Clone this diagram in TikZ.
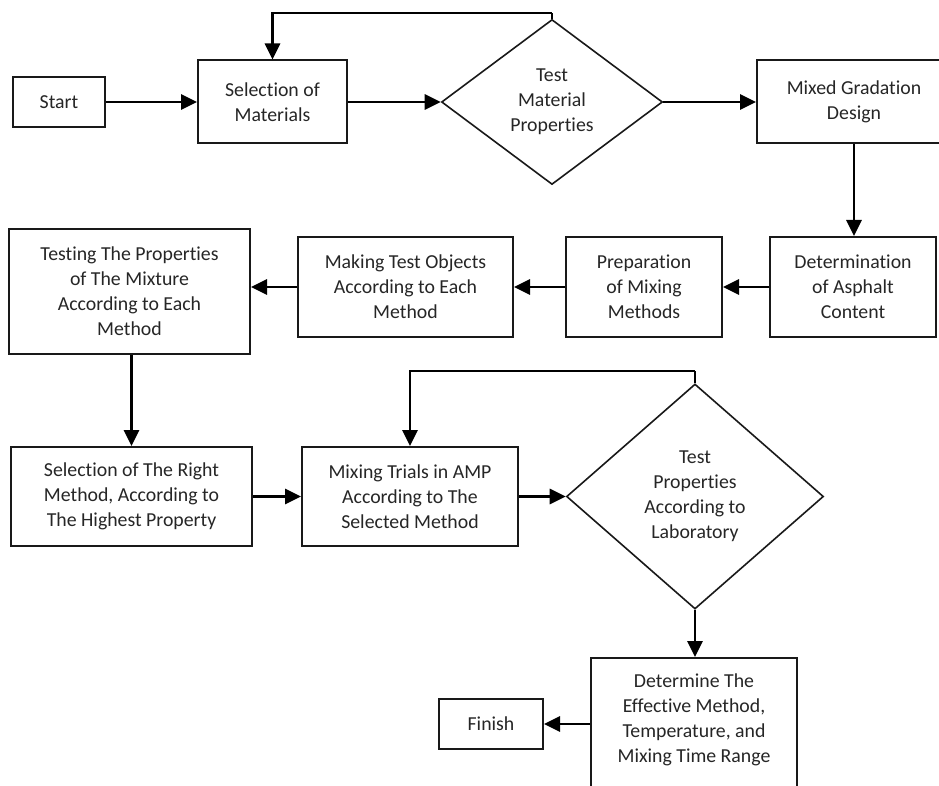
\documentclass[tikz,border=0pt]{standalone}
\usepackage{fontspec}
\setmainfont{Carlito}[Ligatures=NoCommon]
\usetikzlibrary{shapes.geometric,arrows.meta}
\tikzset{
  box/.style={draw=black!90, line width=2pt, fill=white, align=center, inner sep=0pt, text=black!85},
  dec/.style={draw=black!90, line width=1.6pt, diamond, align=center, inner sep=0pt, aspect=1, text=black!85},
  arr/.style={line width=2.8pt, black, -{Triangle[length=16pt,width=15pt]}},
  ln/.style={line width=2.8pt, black},
}
\begin{document}
\begin{tikzpicture}[x=1pt,y=-1pt,font=\fontsize{19.8}{25}\selectfont]
\clip (0,0) rectangle (939,786);
\fill[white] (0,0) rectangle (939,786);
% row 1
\node[box, minimum width=92pt, minimum height=50pt] (start) at (59,102) {Start};
\node[box, minimum width=149pt, minimum height=83pt] (sel) at (272.5,102) {Selection of\\Materials};
\node[dec, minimum width=221pt, minimum height=165pt] (d1) at (552,102) {Test\\Material\\Properties};
\node[box, minimum width=194pt, minimum height=83pt] (mix) at (854,102) {Mixed Gradation\\Design};
% row 2
\node[box, minimum width=166pt, minimum height=100pt] (det) at (853,287) {Determination\\of Asphalt\\Content};
\node[box, minimum width=156pt, minimum height=100pt] (prep) at (644,287) {Preparation\\of Mixing\\Methods};
\node[box, minimum width=215pt, minimum height=99pt] (make) at (405.5,287) {Making Test Objects\\According to Each\\Method};
\node[box, minimum width=241pt, minimum height=125pt] (testing) at (129.5,291.5) {Testing The Properties\\of The Mixture\\According to Each\\Method};
% row 3
\node[box, minimum width=241pt, minimum height=99pt] (right) at (131.5,496.5) {Selection of The Right\\Method, According to\\The Highest Property};
\node[box, minimum width=216pt, minimum height=99pt] (amp) at (410,496.5) {Mixing Trials in AMP\\According to The\\Selected Method};
\node[dec, minimum width=257pt, minimum height=225pt] (d2) at (695,496.5) {Test\\Properties\\According to\\Laboratory};
% row 4
\node[box, minimum width=206pt, minimum height=136pt,
      label={[align=center, text=black!85, yshift=6pt]center:{Determine The\\Effective Method,\\Temperature, and\\Mixing Time Range}}] (detm) at (694,726) {};
\node[box, minimum width=104pt, minimum height=50pt] (finish) at (491,724) {Finish};
% loop coordinates
\coordinate (t1) at (552,13);
\coordinate (t2) at (695,371);
% connectors
\draw[arr] (start.east) -- (sel.west);
\draw[arr] (sel.east) -- (d1.west);
\draw[arr] (d1.east) -- (mix.west);
\draw[ln] (d1.north) -- (t1);
\draw[arr] (t1) -| (sel.north);
\draw[arr] (mix.south) -- (mix.south |- det.north);
\draw[arr] (det.west) -- (prep.east);
\draw[arr] (prep.west) -- (make.east);
\draw[arr] (make.west) -- (make.west -| testing.east);
\draw[arr] (testing.south -| right.north) -- (right.north);
\draw[arr] (right.east) -- (right.east -| amp.west);
\draw[arr] (amp.east) -- (d2.west);
\draw[ln] (d2.north) -- (t2);
\draw[arr] (t2) -| (amp.north);
\draw[arr] (d2.south) -- (d2.south |- detm.north);
\draw[arr] (detm.west |- finish.east) -- (finish.east);
\end{tikzpicture}
\end{document}
